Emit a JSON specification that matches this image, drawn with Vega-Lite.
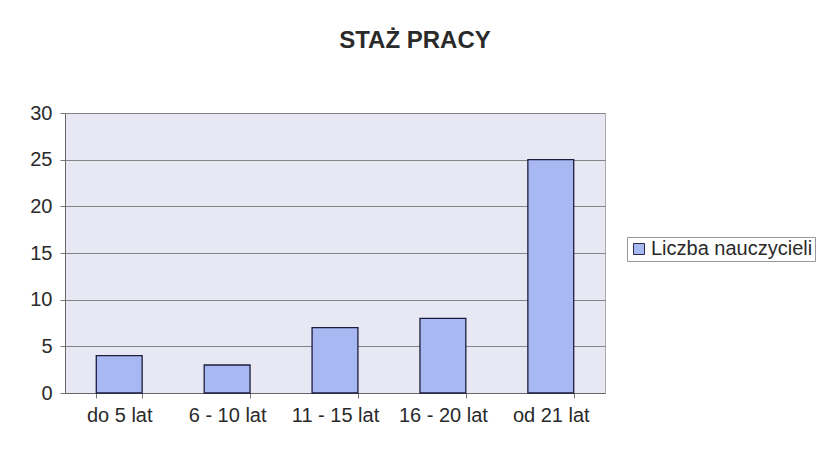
{
  "$schema": "https://vega.github.io/schema/vega-lite/v6.json",
  "autosize": {"type": "none"},
  "width": 540,
  "height": 280,
  "padding": {"left": 65, "top": 113, "right": 214, "bottom": 62},
  "background": "#ffffff",
  "title": {
    "text": "STAŻ PRACY",
    "font": "Liberation Sans",
    "fontSize": 24,
    "fontWeight": "bold",
    "color": "#2a2a2a",
    "anchor": "middle",
    "frame": "group",
    "dx": 80,
    "offset": 50
  },
  "data": {
    "values": [
      {"kategoria": "do 5 lat", "liczba": 4, "seria": "Liczba nauczycieli"},
      {"kategoria": "6 - 10 lat", "liczba": 3, "seria": "Liczba nauczycieli"},
      {"kategoria": "11 - 15 lat", "liczba": 7, "seria": "Liczba nauczycieli"},
      {"kategoria": "16 - 20 lat", "liczba": 8, "seria": "Liczba nauczycieli"},
      {"kategoria": "od 21 lat", "liczba": 25, "seria": "Liczba nauczycieli"}
    ]
  },
  "mark": {"type": "bar", "stroke": "#1c1c3c", "strokeWidth": 1.3},
  "encoding": {
    "x": {
      "field": "kategoria",
      "type": "nominal",
      "sort": null,
      "scale": {"paddingInner": 0.575, "paddingOuter": 0.29},
      "axis": {
        "title": null,
        "labelAngle": 0,
        "labelFont": "Liberation Sans",
        "labelFontSize": 20,
        "labelColor": "#2a2a2a",
        "labelPadding": 7,
        "tickBand": "extent",
        "tickSize": 5,
        "tickColor": "#777777",
        "domainColor": "#666666",
        "grid": false
      }
    },
    "y": {
      "field": "liczba",
      "type": "quantitative",
      "scale": {"domain": [0, 30]},
      "axis": {
        "title": null,
        "values": [0, 5, 10, 15, 20, 25, 30],
        "labelFont": "Liberation Sans",
        "labelFontSize": 20,
        "labelColor": "#2a2a2a",
        "labelPadding": 8,
        "tickSize": 5,
        "tickColor": "#777777",
        "domainColor": "#666666",
        "gridColor": "#858585",
        "gridWidth": 1,
        "gridOpacity": 1
      }
    },
    "color": {
      "field": "seria",
      "type": "nominal",
      "scale": {"range": ["#a8b8f2"]},
      "legend": {
        "title": null,
        "orient": "none",
        "legendX": 562,
        "legendY": 124,
        "symbolType": "square",
        "symbolSize": 121,
        "symbolStrokeColor": "#2a2a4a",
        "symbolStrokeWidth": 1,
        "labelFont": "Liberation Sans",
        "labelFontSize": 20,
        "labelColor": "#2a2a2a",
        "labelOffset": 2,
        "labelLimit": 400,
        "strokeColor": "#999999",
        "padding": 2
      }
    }
  },
  "config": {
    "view": {"fill": "#e8e8f4", "stroke": "#aaaaaa", "strokeWidth": 1}
  }
}
